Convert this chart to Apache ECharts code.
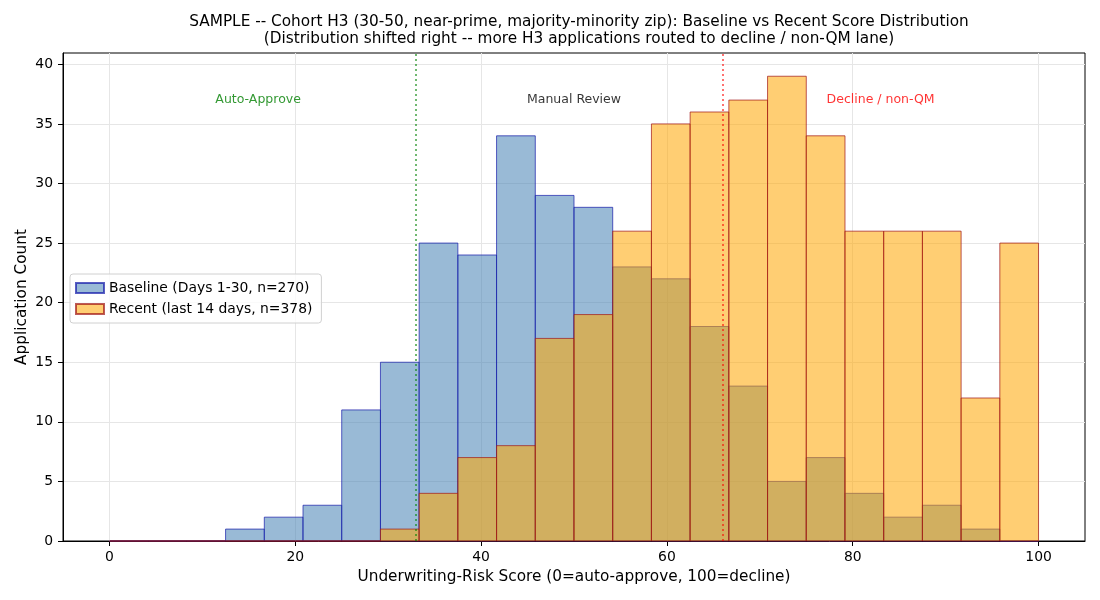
<!DOCTYPE html>
<html>
<head>
<meta charset="utf-8">
<script src="https://cdn.jsdelivr.net/npm/echarts@6/dist/echarts.min.js"></script>
<style>
  html, body { margin: 0; padding: 0; background: #fff; }
  #chart { width: 1100px; height: 600px; }
</style>
</head>
<body>
<div id="chart"></div>
<script>
// 24 equal bins over 0..100
const binEdges = [0, 4.1667, 8.3333, 12.5, 16.6667, 20.8333, 25, 29.1667, 33.3333, 37.5,
  41.6667, 45.8333, 50, 54.1667, 58.3333, 62.5, 66.6667, 70.8333, 75, 79.1667,
  83.3333, 87.5, 91.6667, 95.8333, 100]
const baselineCounts = [0, 0, 0, 1, 2, 3, 11, 15, 25, 24, 34, 29, 28, 23, 22, 18, 13, 5, 7, 4, 2, 3, 1, 0]
const recentCounts = [0, 0, 0, 0, 0, 0, 0, 1, 4, 7, 8, 17, 19, 26, 35, 36, 37, 39, 34, 26, 26, 26, 12, 25]
const xTicks = [0, 20, 40, 60, 80, 100]
const yTicks = [0, 5, 10, 15, 20, 25, 30, 35, 40]
const thresholds = [33, 66]
const zoneLabels = ['Auto-Approve', 'Manual Review', 'Decline / non-QM']
const zoneLabelX = [16, 50, 83]
const zoneLabelY = 37

const font = 'DejaVu Sans, sans-serif'

const toBins = counts => counts.map((c, i) => [binEdges[i], binEdges[i + 1], c])

const renderBar = (params, api) => {
  const topLeft = api.coord([api.value(0), api.value(2)])
  const bottomRight = api.coord([api.value(1), 0])
  return {
    type: 'rect',
    shape: {
      x: topLeft[0],
      y: topLeft[1],
      width: bottomRight[0] - topLeft[0],
      height: bottomRight[1] - topLeft[1],
    },
    style: api.style(),
  }
}

const baselineStyle = { color: 'rgba(70,130,180,0.55)', borderColor: 'rgba(20,25,170,0.7)', borderWidth: 1 }
const recentStyle = { color: 'rgba(255,165,0,0.55)', borderColor: 'rgba(160,20,20,0.7)', borderWidth: 1 }

const chart = echarts.init(document.getElementById('chart'))

chart.setOption({
  animation: false,
  title: {
    text: 'SAMPLE -- Cohort H3 (30-50, near-prime, majority-minority zip): Baseline vs Recent Score Distribution\n(Distribution shifted right -- more H3 applications routed to decline / non-QM lane)',
    left: 574,
    top: 9,
    textAlign: 'center',
    textStyle: { fontFamily: font, fontSize: 15.3, fontWeight: 'normal', color: '#000', lineHeight: 17 },
  },
  grid: {
    left: 63, right: 15, top: 53, bottom: 59,
    show: true, borderColor: '#000', borderWidth: 1,
  },
  legend: {
    orient: 'vertical',
    left: 70,
    top: 274,
    data: ['Baseline (Days 1-30, n=270)', 'Recent (last 14 days, n=378)'],
    icon: 'rect',
    itemWidth: 28,
    itemHeight: 10,
    itemGap: 7,
    padding: [7, 9, 7, 5],
    borderColor: '#d0d0d0',
    borderWidth: 1,
    borderRadius: 3,
    backgroundColor: 'rgba(255,255,255,0.8)',
    textStyle: { fontFamily: font, fontSize: 13.9, color: '#000' },
  },
  xAxis: {
    type: 'value',
    min: -5,
    max: 105,
    name: 'Underwriting-Risk Score (0=auto-approve, 100=decline)',
    nameLocation: 'middle',
    nameGap: 28.5,
    nameMoveOverlap: false,
    nameTextStyle: { fontFamily: font, fontSize: 15.3, color: '#000' },
    axisLine: { show: true, onZero: false, lineStyle: { color: '#000' } },
    axisTick: { show: true, length: 5, lineStyle: { color: '#000' }, customValues: xTicks },
    axisLabel: { fontFamily: font, fontSize: 13.9, color: '#000', margin: 9, customValues: xTicks },
    splitLine: { show: true, lineStyle: { color: '#e6e6e6', width: 1 } },
  },
  yAxis: {
    type: 'value',
    min: 0,
    max: 40.95,
    name: 'Application Count',
    nameLocation: 'middle',
    nameGap: 33,
    nameMoveOverlap: false,
    nameTextStyle: { fontFamily: font, fontSize: 15.3, color: '#000' },
    axisLine: { show: true, onZero: false, lineStyle: { color: '#000' } },
    axisTick: { show: true, length: 5, lineStyle: { color: '#000' }, customValues: yTicks },
    axisLabel: { fontFamily: font, fontSize: 13.9, color: '#000', margin: 10, customValues: yTicks },
    splitLine: { show: true, lineStyle: { color: '#e6e6e6', width: 1 } },
  },
  series: [
    {
      name: 'Baseline (Days 1-30, n=270)',
      type: 'custom',
      renderItem: renderBar,
      encode: { x: [0, 1], y: 2 },
      itemStyle: baselineStyle,
      data: toBins(baselineCounts),
    },
    {
      name: 'Recent (last 14 days, n=378)',
      type: 'custom',
      renderItem: renderBar,
      encode: { x: [0, 1], y: 2 },
      itemStyle: recentStyle,
      data: toBins(recentCounts),
      markLine: {
        silent: true,
        symbol: 'none',
        label: { show: false },
        data: [
          { xAxis: thresholds[0], lineStyle: { color: 'rgba(0,128,0,0.75)', type: [2, 3], width: 1.5 } },
          { xAxis: thresholds[1], lineStyle: { color: 'rgba(255,0,0,0.75)', type: [2, 3], width: 1.5 } },
        ],
      },
    },
    {
      name: 'zones',
      type: 'scatter',
      symbolSize: 0,
      silent: true,
      data: zoneLabels.map((txt, i) => ({
        value: [zoneLabelX[i], zoneLabelY],
        label: { color: ['#008000', '#000', '#ff0000'][i] },
      })),
      label: {
        show: true,
        position: 'inside',
        fontFamily: font,
        fontSize: 12.5,
        formatter: p => zoneLabels[p.dataIndex],
      },
    },
  ],
})
</script>
</body>
</html>
